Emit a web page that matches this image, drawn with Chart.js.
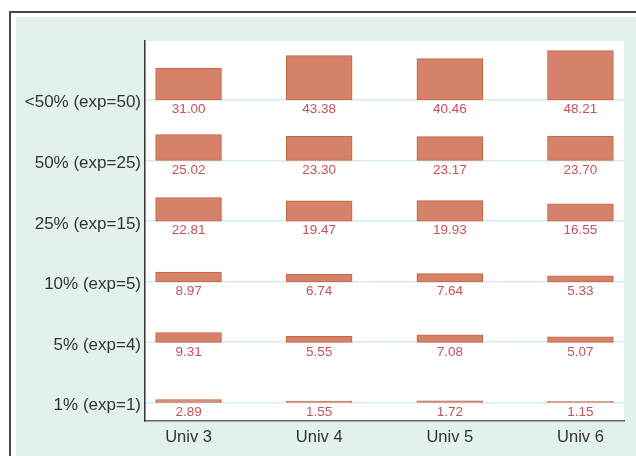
<!DOCTYPE html>
<html>
<head>
<meta charset="utf-8">
<script src="https://cdn.jsdelivr.net/npm/chart.js@4/dist/chart.umd.min.js"></script>
<style>
  html, body { margin: 0; padding: 0; background: #fff; }
  #wrap { width: 636px; height: 456px; }
</style>
</head>
<body>
<div id="wrap"><canvas id="myChart" width="636" height="456"></canvas></div>
<script>
// rows from bottom to top
var rows = ['1% (exp=1)', '5% (exp=4)', '10% (exp=5)', '25% (exp=15)', '50% (exp=25)', '<50% (exp=50)'];
var univs = ['Univ 3', 'Univ 4', 'Univ 5', 'Univ 6'];

var p1   = [2.89, 1.55, 1.72, 1.15];
var p5   = [9.31, 5.55, 7.08, 5.07];
var p10  = [8.97, 6.74, 7.64, 5.33];
var p25  = [22.81, 19.47, 19.93, 16.55];
var p50  = [25.02, 23.30, 23.17, 23.70];
var plt50 = [31.00, 43.38, 40.46, 48.21];

var series = [p1, p5, p10, p25, p50, plt50];
var ROW_STEP = 60;
var FONT = "'Liberation Sans', Arial, sans-serif";

var datasets = series.map(function (vals, r) {
    var base = r * ROW_STEP;
    return {
        label: rows[r],
        data: vals.map(function (v, i) { return { x: i, y: [base, base + v], v: v }; }),
        backgroundColor: '#d4826a',
        borderColor: '#c8643c',
        borderWidth: 1,
        borderSkipped: false,
        inflateAmount: 0.6,
        grouped: false,
        categoryPercentage: 0.5,
        barPercentage: 1.0
    };
});

// panel background and frame
var background = {
    id: 'background',
    beforeDraw: function (chart) {
        var c = chart.ctx, a = chart.chartArea;
        c.save();
        c.fillStyle = '#ffffff';
        c.fillRect(0, 0, chart.width, chart.height);
        c.fillStyle = '#4a4a4a';
        c.fillRect(9, 11, chart.width, 2);
        c.fillRect(9, 11, 2, chart.height);
        c.fillStyle = '#e2f0f0';
        c.fillRect(16, 17, chart.width, chart.height);
        c.fillStyle = '#ffffff';
        c.fillRect(a.left, a.top, a.right - a.left, a.bottom - a.top);
        c.restore();
    }
};

// value labels under each bar
var valueLabels = {
    id: 'valueLabels',
    afterDatasetsDraw: function (chart) {
        var c = chart.ctx, ys = chart.scales.y;
        c.save();
        c.font = '13.5px ' + FONT;
        c.fillStyle = '#c8505a';
        c.textAlign = 'center';
        c.textBaseline = 'alphabetic';
        chart.data.datasets.forEach(function (ds, di) {
            var meta = chart.getDatasetMeta(di);
            meta.data.forEach(function (bar, i) {
                var pt = ds.data[i];
                var yb = ys.getPixelForValue(pt.y[0]);
                c.fillText(pt.v.toFixed(2), bar.x, yb + 13.5);
            });
        });
        c.restore();
    }
};

var ctx = document.getElementById('myChart').getContext('2d');
var myChart = new Chart(ctx, {
    type: 'bar',
    data: { datasets: datasets },
    plugins: [background, valueLabels],
    options: {
        responsive: false,
        animation: false,
        layout: { padding: { left: 0, right: 12, top: 41, bottom: 0 } },
        plugins: {
            legend: { display: false },
            tooltip: { enabled: false }
        },
        scales: {
            x: {
                type: 'linear',
                offset: false,
                min: -1 / 3,
                max: 3 + 1 / 3,
                afterBuildTicks: function (scale) {
                    scale.ticks = univs.map(function (_, i) { return { value: i }; });
                },
                afterFit: function (scale) { scale.height = 35; },
                ticks: {
                    callback: function (v) { return univs[Math.round(v)]; },
                    font: { family: FONT, size: 16.5 },
                    color: '#333333',
                    padding: 7,
                    maxRotation: 0
                },
                grid: { display: false, drawTicks: false },
                border: { display: true, color: '#666666', width: 1.5 }
            },
            y: {
                type: 'linear',
                min: -18,
                max: 358,
                afterBuildTicks: function (scale) {
                    scale.ticks = rows.map(function (_, i) { return { value: i * ROW_STEP }; });
                },
                afterFit: function (scale) { scale.width = 145; },
                ticks: {
                    callback: function (v) { return rows[Math.round(v / ROW_STEP)]; },
                    font: { family: FONT, size: 17 },
                    color: '#333333',
                    padding: 4,
                    labelOffset: 3
                },
                grid: { color: '#d6ebeb', lineWidth: 1.5, drawTicks: false },
                border: { display: true, color: '#333333', width: 1.5 }
            }
        }
    }
});
</script>
</body>
</html>
